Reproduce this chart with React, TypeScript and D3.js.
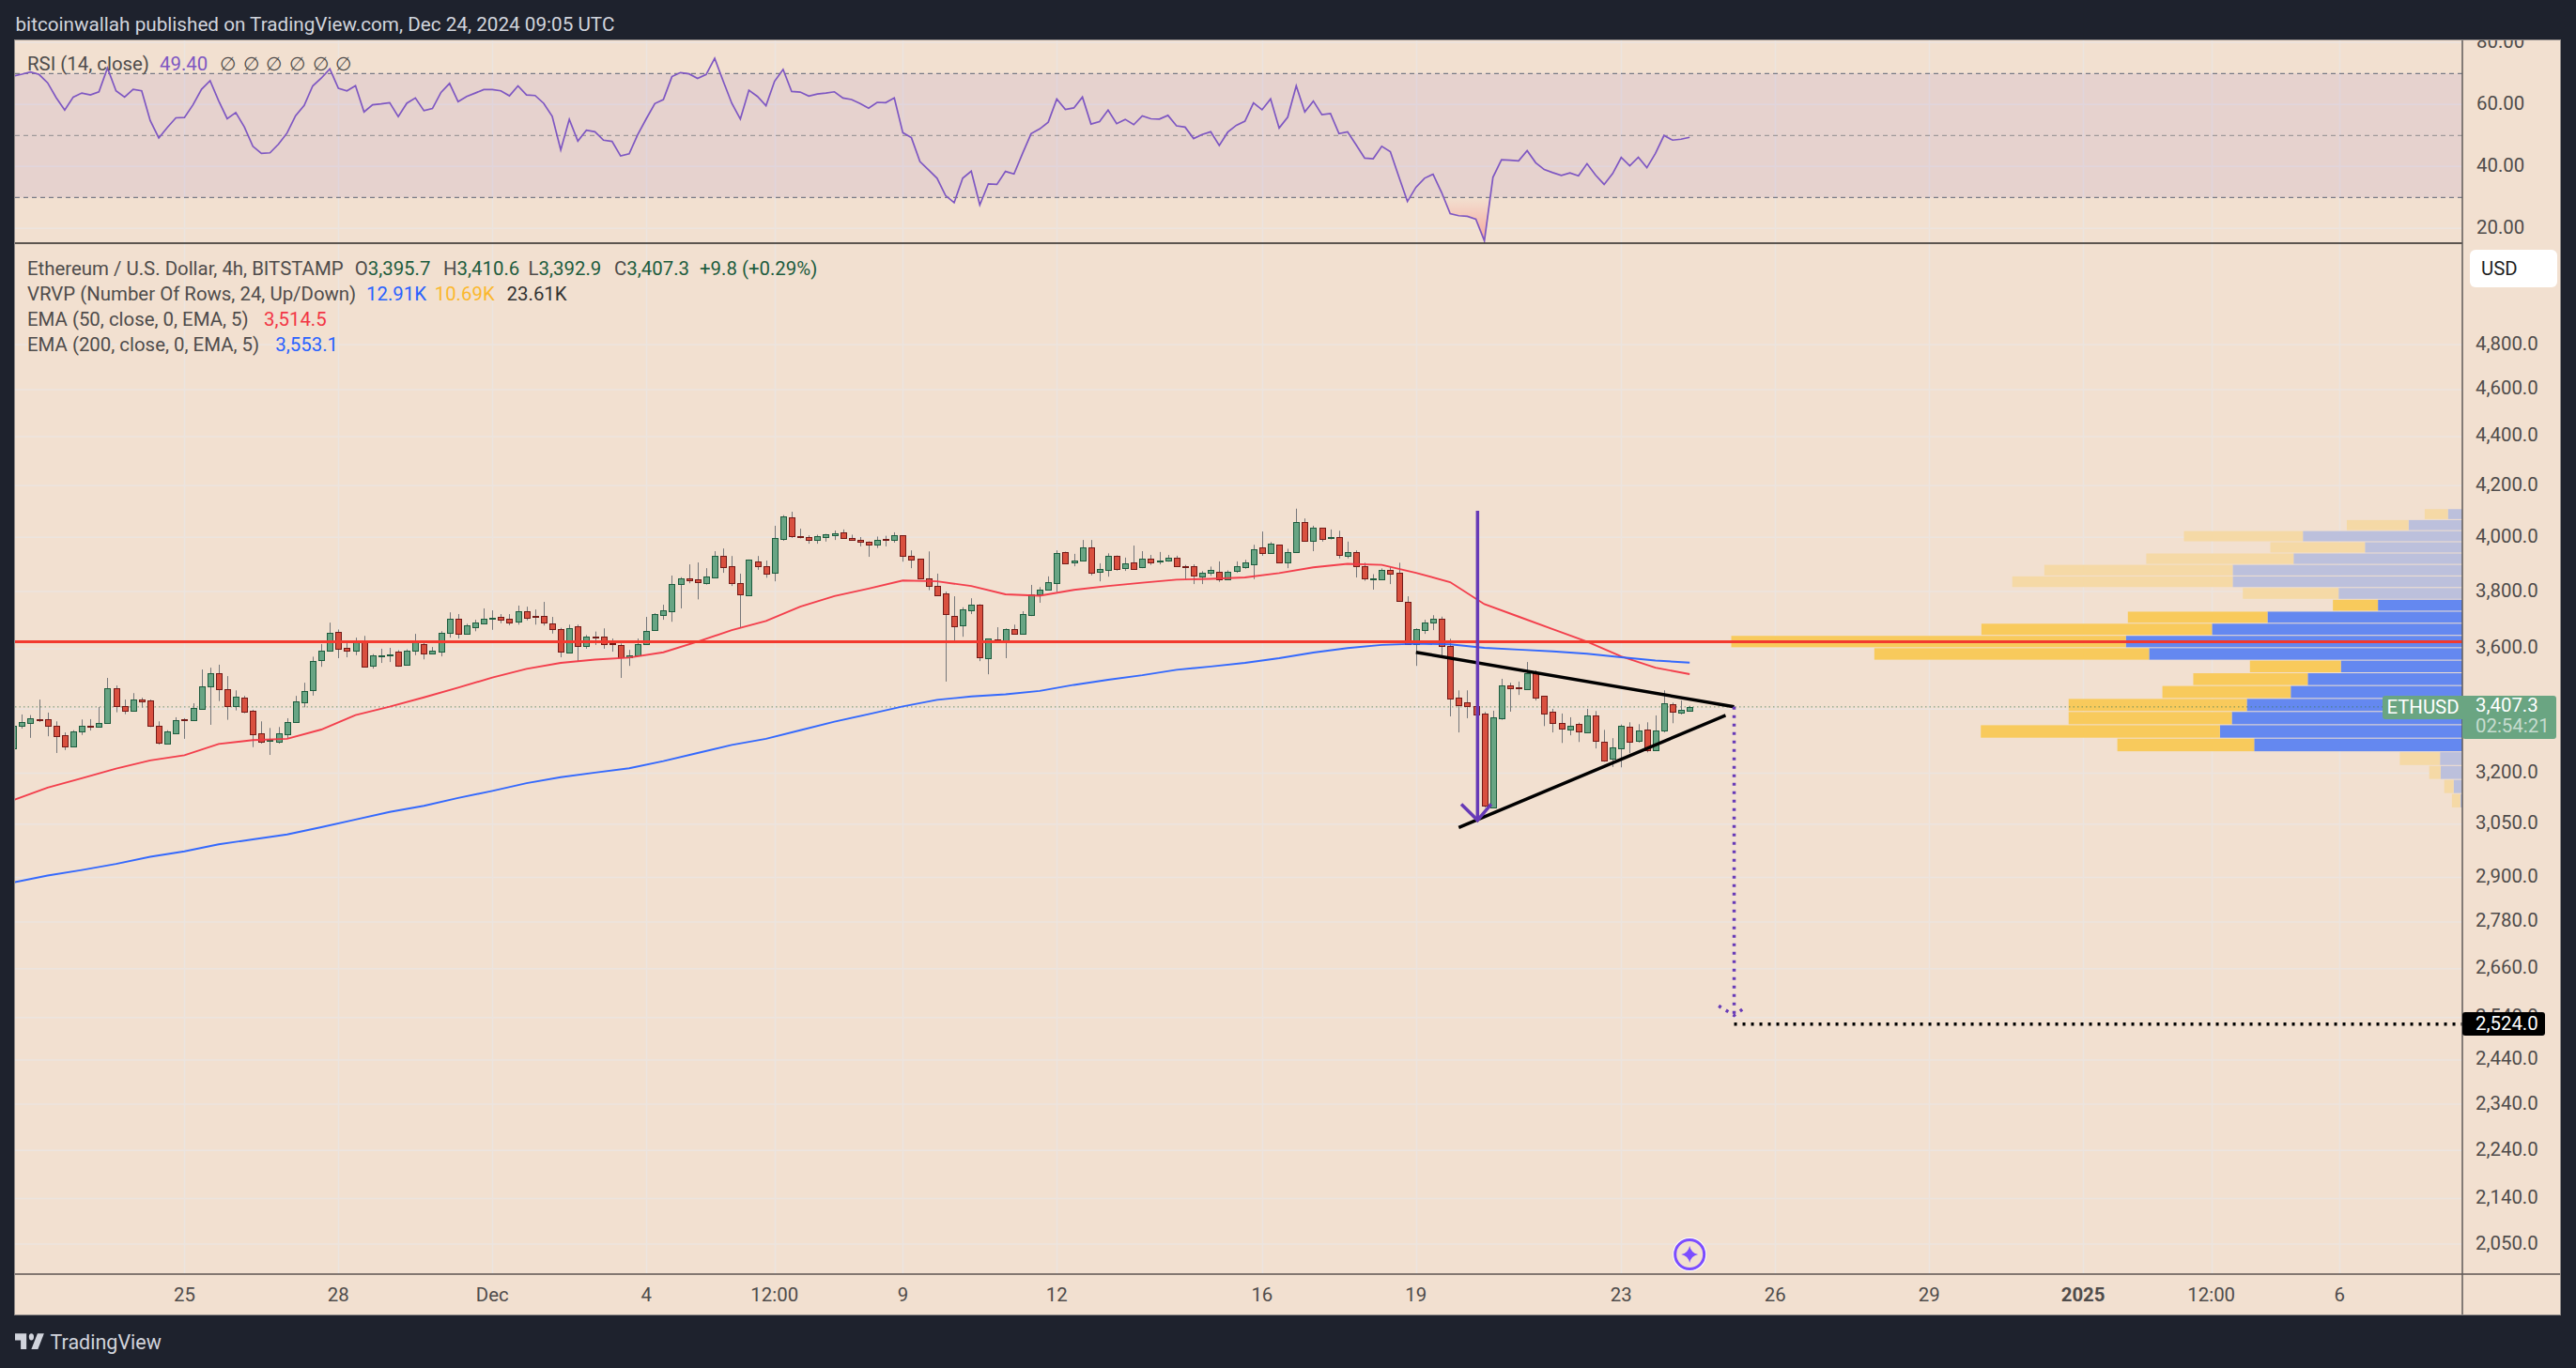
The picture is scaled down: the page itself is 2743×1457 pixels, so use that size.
import React from "react";
import * as d3 from "d3";

// ---------- DATA ----------
const firstBarIndex = -20; // bars counted from 25 Nov 2024 00:00 UTC, 4h each
const ohlc: number[][] = [
[3277,3348,3277,3348],[3347,3383,3338,3360],[3356,3381,3309,3372],[3369,3431,3359,3367],[3367,3389,3314,3347],
[3348,3361,3262,3315],[3316,3326,3271,3283],[3283,3333,3280,3330],[3330,3367,3318,3348],[3348,3368,3332,3344],
[3344,3407,3341,3357],[3357,3502,3357,3467],[3467,3477,3390,3411],[3411,3431,3384,3396],[3396,3452,3396,3430],
[3430,3437,3405,3426],[3427,3431,3343,3347],[3348,3361,3288,3294],[3291,3333,3291,3330],[3324,3374,3324,3364],
[3367,3371,3306,3365],[3366,3419,3366,3404],[3402,3530,3402,3473],[3475,3536,3350,3519],[3519,3546,3426,3466],
[3464,3508,3366,3411],[3411,3461,3396,3439],[3436,3443,3387,3393],[3394,3398,3280,3321],[3322,3361,3291,3297],
[3300,3340,3256,3302],[3297,3343,3291,3322],[3321,3371,3306,3360],[3359,3443,3359,3424],[3423,3486,3406,3460],
[3462,3573,3444,3557],[3562,3616,3539,3595],[3594,3690,3594,3656],[3659,3666,3568,3601],[3602,3619,3571,3594],
[3594,3638,3578,3624],[3624,3644,3539,3540],[3543,3582,3533,3576],[3575,3600,3552,3579],[3578,3603,3555,3582],
[3589,3595,3539,3543],[3546,3598,3546,3595],[3594,3651,3578,3624],[3617,3624,3564,3585],[3585,3606,3581,3595],
[3591,3660,3574,3656],[3655,3726,3638,3702],[3702,3720,3635,3652],[3652,3686,3652,3679],[3675,3700,3660,3689],
[3688,3740,3688,3705],[3704,3733,3665,3707],[3709,3720,3688,3701],[3702,3720,3681,3691],[3694,3750,3683,3729],
[3729,3746,3698,3708],[3713,3736,3683,3711],[3712,3763,3680,3691],[3686,3710,3652,3668],[3666,3672,3571,3591],
[3588,3683,3588,3672],[3676,3683,3558,3610],[3610,3647,3600,3643],[3643,3659,3613,3639],[3640,3670,3600,3616],
[3619,3635,3590,3616],[3614,3618,3502,3572],[3572,3596,3542,3577],[3578,3635,3578,3616],[3616,3710,3616,3662],
[3665,3723,3665,3719],[3718,3753,3700,3732],[3730,3858,3693,3826],[3828,3852,3740,3847],[3847,3899,3830,3842],
[3843,3906,3772,3835],[3832,3885,3825,3853],[3852,3948,3852,3932],[3932,3958,3868,3890],[3891,3930,3820,3832],
[3829,3865,3672,3791],[3788,3917,3788,3915],[3909,3930,3879,3893],[3894,3913,3850,3866],[3869,4044,3837,3996],
[3995,4085,3987,4079],[4075,4098,3998,4006],[4004,4033,3996,4002],[4000,4008,3976,3991],[3991,4010,3976,4003],
[4002,4013,3984,4010],[4009,4026,3990,4014],[4018,4030,3998,3998],[3996,4010,3991,3991],[3992,4001,3966,3985],
[3982,3985,3927,3974],[3971,4003,3960,3992],[3994,4006,3966,3991],[3991,4019,3980,4007],[4007,4008,3909,3931],
[3932,3951,3885,3917],[3919,3919,3844,3849],[3849,3947,3805,3819],[3820,3865,3784,3788],[3792,3800,3490,3721],
[3712,3783,3624,3678],[3681,3744,3641,3735],[3734,3776,3720,3752],[3752,3755,3558,3572],[3569,3634,3514,3634],
[3631,3674,3624,3627],[3628,3670,3568,3666],[3666,3683,3652,3652],[3652,3730,3652,3719],[3716,3824,3713,3789],
[3790,3816,3760,3806],[3807,3855,3807,3833],[3832,3951,3799,3940],[3943,3946,3900,3904],[3907,3938,3892,3912],
[3914,3990,3914,3961],[3961,3990,3859,3869],[3873,3903,3837,3881],[3880,3940,3854,3932],[3932,3932,3876,3883],
[3887,3924,3875,3902],[3905,3969,3883,3883],[3890,3948,3885,3919],[3919,3934,3897,3907],[3911,3945,3899,3913],
[3912,3934,3909,3923],[3923,3931,3889,3894],[3894,3897,3845,3891],[3891,3899,3827,3859],[3856,3874,3827,3870],
[3869,3891,3857,3877],[3873,3910,3835,3843],[3843,3877,3843,3873],[3876,3910,3868,3894],[3890,3916,3883,3905],
[3901,3972,3845,3954],[3961,4022,3931,3940],[3942,3982,3942,3975],[3972,3972,3905,3907],[3908,3957,3885,3943],
[3943,4110,3943,4057],[4057,4072,3984,3988],[3988,4044,3948,4036],[4036,4036,3984,3995],[3999,4030,3992,4001],
[4000,4025,3921,3935],[3931,3984,3921,3943],[3943,3951,3851,3893],[3894,3905,3839,3849],[3845,3863,3807,3847],
[3845,3884,3845,3880],[3880,3888,3827,3866],[3867,3905,3768,3768],[3764,3783,3613,3616],[3616,3670,3542,3666],
[3664,3700,3651,3691],[3691,3716,3664,3705],[3702,3711,3570,3610],[3611,3634,3377,3435],[3436,3461,3326,3414],
[3421,3461,3371,3411],[3409,3428,3328,3384],[3385,3391,3098,3103],[3097,3395,3097,3373],[3372,3499,3366,3476],
[3476,3486,3392,3469],[3471,3490,3446,3469],[3466,3555,3466,3519],[3522,3527,3428,3438],[3442,3442,3346,3387],
[3391,3401,3326,3356],[3357,3386,3293,3338],[3335,3374,3317,3348],[3354,3357,3296,3329],[3327,3401,3327,3379],
[3381,3394,3276,3300],[3298,3334,3235,3239],[3245,3308,3219,3278],[3277,3351,3218,3348],[3345,3358,3261,3297],
[3300,3352,3294,3333],[3336,3358,3264,3271],[3271,3380,3268,3333],[3332,3461,3326,3418],[3415,3421,3355,3393],
[3390,3428,3383,3397],[3395.7,3410.6,3392.9,3407.3],
];
const emaStep = 4; // one reading every 4 bars, from the first bar
const ema50 = [3120,3157,3185,3214,3239,3255,3290,3302,3306,3335,3381,3408,3438,3470,3503,3532,3552,3563,3570,3588,3624,3664,3696,3746,3784,3811,3840,3837,3820,3790,3785,3806,3820,3832,3843,3846,3851,3867,3888,3901,3897,3868,3834,3755,3711,3667,3624,3574,3536,3514.5];
const ema200 = [2886,2905,2920,2937,2957,2972,2992,3006,3020,3041,3063,3085,3103,3126,3147,3170,3188,3202,3215,3237,3262,3287,3306,3333,3360,3384,3409,3430,3441,3448,3459,3479,3496,3511,3529,3540,3552,3568,3587,3602,3613,3617,3615,3603,3597,3591,3583,3571,3560,3553.1];
const rsi = [69.2,69.8,70.5,69.7,67.0,62.2,58.2,62.4,63.7,63.1,64.1,71.8,64.4,62.4,64.9,64.4,54.8,49.2,52.6,55.7,
55.8,59.9,64.9,67.7,61.2,55.4,57.4,52.8,46.5,44.2,44.4,47.2,50.8,56.4,59.7,66.0,68.5,71.5,65.2,64.4,66.1,
57.6,59.9,60.2,60.6,56.1,60.4,62.1,58.0,58.7,63.9,66.8,60.9,62.6,63.7,64.8,64.8,64.4,62.8,66.0,63.1,62.9,60.4,56.2,45.3,55.2,48.2,51.7,51.2,48.5,48.1,43.4,44.1,50.3,55.4,60.3,61.6,69.0,70.3,69.9,68.4,69.7,74.9,67.5,60.4,55.3,64.6,62.6,59.6,67.5,71.3,64.2,64.0,62.7,63.4,63.7,64.1,62.1,
61.6,60.3,58.8,60.7,60.6,62.1,50.9,49.3,41.6,38.9,36.2,30.6,28.3,36.2,38.5,27.6,34.4,34.2,38.4,37.6,44.2,50.6,52.1,54.3,61.8,58.4,58.9,62.4,53.7,54.5,58.2,53.8,55.2,53.5,56.3,55.4,55.3,56.5,53.1,52.7,49.0,50.3,51.2,46.8,51.1,53.3,54.6,60.5,58.3,61.8,52.4,55.9,66.0,57.6,61.1,56.7,57.1,50.6,51.2,47.0,42.7,42.5,46.5,44.8,36.7,28.7,33.3,36.2,37.5,31.6,24.8,24.1,23.9,23.0,16.0,36.5,42.2,42.0,41.8,45.1,41.2,39.0,38.0,37.1,37.9,37.0,40.9,37.2,34.2,37.7,42.9,40.2,43.0,39.6,44.2,50.0,48.5,48.8,49.4];

const vpHigh = 4110;
const vpLow = 3097;
const vpUp = [51,190,563,344,596,811,811,437,298,688,884,1188,1106,429,546,606,761,814,856,735,79,77,31,7];
const vpDown = [82,218,420,334,520,665,778,338,159,493,814,1393,970,321,404,453,629,576,844,483,142,40,33,30];
const vpValueAreaRows = [8, 19]; // first and last row inside the value area

const priceTicks = [4800,4600,4400,4200,4000,3800,3600,3400,3200,3050,2900,2780,2660,2540,2440,2340,2240,2140,2050];
const rsiTicks = [80,60,40,20];
const rsiLevels = [70,50,30];
const timeTicks: [string, string, boolean][] = [
  ["2024-11-25T00:00Z","25",false],["2024-11-28T00:00Z","28",false],["2024-12-01T00:00Z","Dec",false],
  ["2024-12-04T00:00Z","4",false],["2024-12-06T12:00Z","12:00",false],["2024-12-09T00:00Z","9",false],
  ["2024-12-12T00:00Z","12",false],["2024-12-16T00:00Z","16",false],["2024-12-19T00:00Z","19",false],
  ["2024-12-23T00:00Z","23",false],["2024-12-26T00:00Z","26",false],["2024-12-29T00:00Z","29",false],
  ["2025-01-01T00:00Z","2025",true],["2025-01-03T12:00Z","12:00",false],["2025-01-06T00:00Z","6",false],
];
// drawings as [bar index, price]
const upperTrend = [[144,3588],[181.2,3408]];
const lowerTrend = [[149,3040],[180.2,3380]];
const bigArrow = [[151.2,4102],[151.2,3061]];
const bigArrowHead = [[149.3,3108],[151.2,3061],[152.8,3108]];
const targetArrow = [[181.2,3408],[181.2,2545]];
const targetArrowHead = [[179.4,2568],[181.2,2545],[182.2,2560]];
const targetLevel = 2524;
const resistance = 3624;
const lastPrice = 3407.3;

// ---------- LAYOUT ----------
const W = 2743, H = 1457;
const L = 16, T = 43, PR = 2622, OR = 2726, RB = 259, MB = 1357, FB = 1400;
const BG = "#f2e0d0", DARK = "#1e222d", GRID = "#ece4df", TXT = "#4f4c4b";
const UPF = "#68a584", UPB = "#1d5c3e", DNF = "#d9503f", DNB = "#731a17";
const FONT = "Roboto, 'Liberation Sans', sans-serif";

const t0 = Date.UTC(2024, 10, 25);
const barDate = (k: number) => new Date(t0 + k * 4 * 3600 * 1000);
const x = d3.scaleUtc().domain([new Date("2024-11-25T00:00Z"), new Date("2025-01-06T00:00Z")]).range([196.4, 2491.3]);
const y = d3.scaleLog().domain([4000, 2050]).range([572.3, 1325]);
const yR = d3.scaleLinear().domain([70, 30]).range([78.3, 210.3]);
const xk = (k: number) => x(barDate(k));
const vol = d3.scaleLinear().domain([0, 2586]).range([0, 780]);

const emaLine = d3.line<number>().x((_, i) => xk(firstBarIndex + i * emaStep)).y((v) => y(v));
const rsiLine = d3.line<number>().x((_, i) => xk(firstBarIndex + i)).y((v) => yR(v));
const rsiArea = d3.area<number>().x((_, i) => xk(firstBarIndex + i)).y0(yR(30)).y1((v) => yR(v));
const draw = d3.line<number[]>().x((d) => xk(d[0])).y((d) => y(d[1]));
const fmt = d3.format(",.1f");
const crisp = (v: number) => Math.round(v) + 0.5;

const Text = (p: any) => <text fontFamily={FONT} fontSize={20.4} {...p} />;

export default function App() {
  const step = (vpHigh - vpLow) / vpUp.length;
  const rows = vpUp.map((u, i) => {
    const top = y(vpHigh - i * step), bot = y(vpHigh - (i + 1) * step);
    return { u, d: vpDown[i], top: top + 0.5, h: bot - top - 1, strong: i >= vpValueAreaRows[0] && i <= vpValueAreaRows[1] };
  });
  const ly = y(lastPrice);
  const ty = y(targetLevel);
  const iconX = xk(176), iconY = 1336;
  return (
    <svg width={W} height={H} viewBox={`0 0 ${W} ${H}`} style={{ position: "absolute", left: 0, top: 0, display: "block" }}>
      <defs>
        <clipPath id="mainPane"><rect x={L} y={RB} width={PR - L} height={MB - RB} /></clipPath>
        <clipPath id="rsiPane"><rect x={L} y={T} width={PR - L} height={RB - T} /></clipPath>
        <clipPath id="rsiAxis"><rect x={PR} y={T} width={OR - PR} height={RB - T} /></clipPath>
        <clipPath id="below30"><rect x={L} y={yR(30)} width={PR - L} height={RB - yR(30)} /></clipPath>
        <linearGradient id="osFill" gradientUnits="userSpaceOnUse" x1="0" x2="0" y1={yR(30)} y2={yR(16)}>
          <stop offset="0" stopColor="#ff5252" stopOpacity={0} />
          <stop offset="1" stopColor="#ff5252" stopOpacity={0.4} />
        </linearGradient>
      </defs>
      <rect width={W} height={H} fill={DARK} />
      <rect x={L} y={T} width={OR - L} height={FB - T} fill={BG} />

      {/* grid */}
      {timeTicks.map(([d]) => (
        <line key={d} x1={crisp(x(new Date(d)))} x2={crisp(x(new Date(d)))} y1={T} y2={MB} stroke={GRID} strokeWidth={1.5} />
      ))}
      {priceTicks.map((p) => (
        <line key={p} x1={L} x2={PR} y1={y(p)} y2={y(p)} stroke={GRID} strokeWidth={1.5} />
      ))}
      {rsiTicks.map((p) => (
        <line key={p} x1={L} x2={PR} y1={yR(p)} y2={yR(p)} stroke={GRID} strokeWidth={1.5} />
      ))}

      {/* RSI pane */}
      <g clipPath="url(#rsiPane)">
        <rect x={L} y={yR(70)} width={PR - L} height={yR(30) - yR(70)} fill="#7e57c2" opacity={0.1} />
        {rsiLevels.map((l) => (
          <line key={l} x1={L} x2={PR} y1={yR(l)} y2={yR(l)} stroke={l === 50 ? "#9f9a9a" : "#787b86"} strokeWidth={1.3} strokeDasharray="5 4" />
        ))}
        <path d={rsiArea(rsi) || ""} fill="url(#osFill)" clipPath="url(#below30)" />
        <path d={rsiLine(rsi) || ""} fill="none" stroke="#7e57c2" strokeWidth={1.7} />
      </g>

      {/* main pane */}
      <g clipPath="url(#mainPane)">
        {rows.map((r, i) => {
          const uw = vol(r.u), dw = vol(r.d);
          return (
            <g key={i}>
              <rect x={PR - uw} y={r.top} width={uw} height={r.h} fill={r.strong ? "#6488f0" : "#bcc0dc"} />
              <rect x={PR - uw - dw} y={r.top} width={dw} height={r.h} fill={r.strong ? "#f8ca5c" : "#f5d9a6"} />
            </g>
          );
        })}
        <line x1={L} x2={PR} y1={ly} y2={ly} stroke="#3d7a58" strokeWidth={1} strokeDasharray="1.5 3" opacity={0.75} />
        {ohlc.map(([o, h, l, c], i) => {
          const cx = crisp(xk(firstBarIndex + i));
          const up = c >= o;
          const top = Math.round(y(Math.max(o, c)));
          const bot = Math.round(y(Math.min(o, c)));
          return (
            <g key={i}>
              <line x1={cx} x2={cx} y1={y(h)} y2={y(l)} stroke="#76777a" strokeWidth={1} />
              <rect x={cx - 3} y={top + 0.5} width={6} height={Math.max(bot - top, 1)} fill={up ? UPF : DNF} stroke={up ? UPB : DNB} strokeWidth={1} />
            </g>
          );
        })}
        <path d={emaLine(ema50) || ""} fill="none" stroke="#f23645" strokeWidth={1.9} opacity={0.95} />
        <path d={emaLine(ema200) || ""} fill="none" stroke="#2962ff" strokeWidth={1.9} opacity={0.95} />
        <line x1={L} x2={PR} y1={y(resistance)} y2={y(resistance)} stroke="#f23a30" strokeWidth={3} />
        <path d={draw(upperTrend) || ""} stroke="#000" strokeWidth={3.5} fill="none" />
        <path d={draw(lowerTrend) || ""} stroke="#000" strokeWidth={3.5} fill="none" />
        <path d={draw(bigArrow) || ""} stroke="#673ab7" strokeWidth={3.5} fill="none" />
        <path d={draw(bigArrowHead) || ""} stroke="#673ab7" strokeWidth={3.5} fill="none" />
        <path d={draw(targetArrow) || ""} stroke="#673ab7" strokeWidth={3.5} fill="none" strokeDasharray="3 6" />
        <path d={draw(targetArrowHead) || ""} stroke="#673ab7" strokeWidth={3.5} fill="none" strokeDasharray="3 6" />
        <line x1={xk(181.2)} x2={PR} y1={ty} y2={ty} stroke="#000" strokeWidth={3.5} strokeDasharray="3 6" />
        <g transform={`translate(${iconX},${iconY})`}>
          <circle r={18} fill="#fff" />
          <circle r={15.5} fill={BG} stroke="#7c4dff" strokeWidth={3} />
          <path d="M0 -9 Q1.5 -1.5 9 0 Q1.5 1.5 0 9 Q-1.5 1.5 -9 0 Q-1.5 -1.5 0 -9Z" fill="#7c4dff" />
        </g>
      </g>

      {/* frame lines */}
      <line x1={L} x2={PR} y1={RB} y2={RB} stroke="#2a2725" strokeWidth={1.5} />
      <line x1={L} x2={OR} y1={MB} y2={MB} stroke="#5e5452" strokeWidth={1.5} />
      <line x1={PR} x2={PR} y1={T} y2={FB} stroke="#5e5a58" strokeWidth={1.5} />
      <rect x={L - 0.5} y={T - 0.5} width={OR - L + 1} height={FB - T + 1} fill="none" stroke="#8f8a88" strokeWidth={1} />

      {/* axes */}
      {priceTicks.map((p) => (
        <Text key={p} x={2636} y={y(p) + 5.5} fill={TXT}>{fmt(p)}</Text>
      ))}
      <g clipPath="url(#rsiAxis)">
        {rsiTicks.map((p) => (
          <Text key={p} x={2637} y={yR(p) + 6} fill={TXT}>{p.toFixed(2)}</Text>
        ))}
      </g>
      {timeTicks.map(([d, label, bold]) => (
        <Text key={d} x={x(new Date(d))} y={1386} textAnchor="middle" fill={TXT} fontWeight={bold ? 700 : 400}>{label}</Text>
      ))}

      {/* price labels */}
      <rect x={2630} y={266} width={93} height={40} rx={6} fill="#fff" />
      <Text x={2642} y={293} fill="#1f1f1f">USD</Text>
      <rect x={2537} y={741} width={90} height={25} rx={3} fill="#6aa582" />
      <Text x={2580} y={760} textAnchor="middle" fill="#fff">ETHUSD</Text>
      <rect x={PR} y={741} width={100} height={46} rx={3} fill="#6aa582" />
      <Text x={2636} y={758} fill="#fff">3,407.3</Text>
      <Text x={2636} y={780} fill="#c6dccf">02:54:21</Text>
      <rect x={PR} y={1078} width={88} height={25} rx={3} fill="#000" />
      <Text x={2636} y={1097} fill="#fff">2,524.0</Text>

      {/* RSI legend */}
      <Text x={29} y={75} fill={TXT}>RSI (14, close)</Text>
      <Text x={170} y={75} fill="#7e57c2">49.40</Text>
      {[234, 258.6, 283, 308, 332.6, 357].map((gx) => (
        <Text key={gx} x={gx} y={75} fill={TXT}>∅</Text>
      ))}

      {/* main legend */}
      <Text x={29} y={293} fill={TXT}>Ethereum / U.S. Dollar, 4h, BITSTAMP</Text>
      {[[377.7,"O","3,395.7"],[472,"H","3,410.6"],[562.6,"L","3,392.9"],[654,"C","3,407.3"]].map(([gx, a, b]: any) => (
        <Text key={a} x={gx} y={293} fill="#1d5c3e"><tspan fill={TXT}>{a}</tspan>{b}</Text>
      ))}
      <Text x={745} y={293} fill="#1d5c3e">+9.8 (+0.29%)</Text>
      <Text x={29} y={320} fill={TXT}>VRVP (Number Of Rows, 24, Up/Down)</Text>
      <Text x={390} y={320} fill="#2962ff">12.91K</Text>
      <Text x={462.7} y={320} fill="#fbb82d">10.69K</Text>
      <Text x={539.6} y={320} fill="#333">23.61K</Text>
      <Text x={29} y={347} fill={TXT}>EMA (50, close, 0, EMA, 5)</Text>
      <Text x={281} y={347} fill="#f23645">3,514.5</Text>
      <Text x={29} y={374} fill={TXT}>EMA (200, close, 0, EMA, 5)</Text>
      <Text x={293.3} y={374} fill="#2962ff">3,553.1</Text>

      {/* header and footer */}
      <Text x={16.5} y={33} fill="#d1d4dc" fontSize={20.7}>bitcoinwallah published on TradingView.com, Dec 24, 2024 09:05 UTC</Text>
      <g transform="translate(16,1413) scale(0.87,1.2)" fill="#d1d4dc">
        <path d="M14 6H0v6h7v8h7V6Z" />
        <circle cx="20" cy="9" r="3" />
        <path d="M28 20h-8l7.5-14h8L28 20Z" />
      </g>
      <Text x={53.5} y={1437} fill="#d1d4dc" fontSize={21.5}>TradingView</Text>
    </svg>
  );
}
